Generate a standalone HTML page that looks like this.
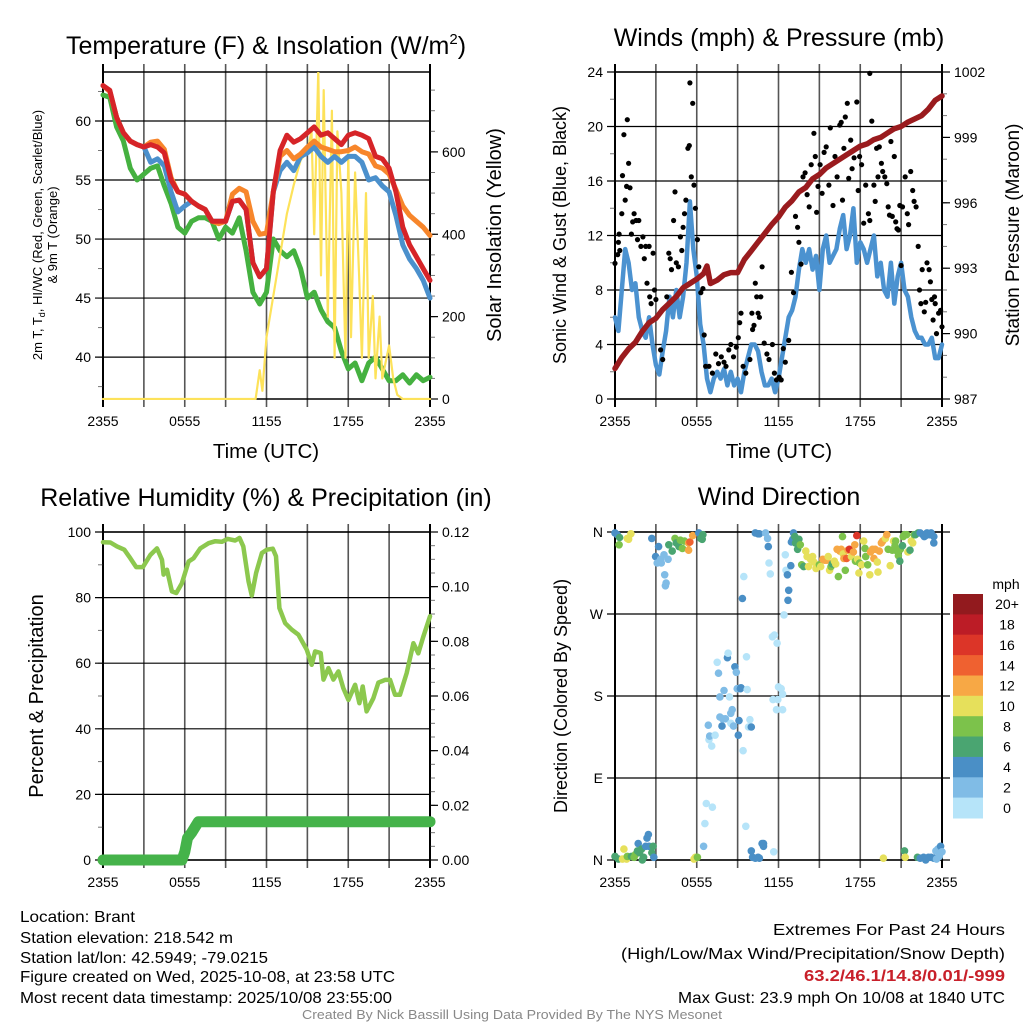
<!DOCTYPE html>
<html><head><meta charset="utf-8"><style>
html,body{margin:0;padding:0;background:#fff;}
svg{display:block;font-family:"Liberation Sans",sans-serif;}
</style></head><body>
<svg id="chart" xmlns="http://www.w3.org/2000/svg" width="1024" height="1024" viewBox="0 0 1024 1024">
<rect x="0" y="0" width="1024" height="1024" fill="#fff"/>
<text x="266" y="54" font-size="25" text-anchor="middle">Temperature (F) &amp; Insolation (W/m<tspan font-size="15" dy="-10">2</tspan><tspan dy="10">)</tspan></text>
<text x="779" y="46" font-size="25" text-anchor="middle">Winds (mph) &amp; Pressure (mb)</text>
<text x="266" y="506" font-size="25" text-anchor="middle">Relative Humidity (%) &amp; Precipitation (in)</text>
<text x="779" y="505" font-size="25" text-anchor="middle">Wind Direction</text>
<text x="266" y="458" font-size="20.5" text-anchor="middle">Time (UTC)</text>
<text x="779" y="458" font-size="20.5" text-anchor="middle">Time (UTC)</text>
<text transform="translate(42,235) rotate(-90)" font-size="13" text-anchor="middle">2m T, T<tspan font-size="9" dy="3">d</tspan><tspan dy="-3">, HI/WC (Red, Green, Scarlet/Blue)</tspan></text>
<text transform="translate(57,235) rotate(-90)" font-size="13" text-anchor="middle">&amp; 9m T (Orange)</text>
<text transform="translate(501,235) rotate(-90)" font-size="20" text-anchor="middle">Solar Insolation (Yellow)</text>
<text transform="translate(566,235) rotate(-90)" font-size="18" text-anchor="middle">Sonic Wind &amp; Gust (Blue, Black)</text>
<text transform="translate(1019,235) rotate(-90)" font-size="19" text-anchor="middle">Station Pressure (Maroon)</text>
<text transform="translate(43,696) rotate(-90)" font-size="20" text-anchor="middle">Percent &amp; Precipitation</text>
<text transform="translate(567,696) rotate(-90)" font-size="18" text-anchor="middle">Direction (Colored By Speed)</text>
<g font-family="'Liberation Sans Narrow','Liberation Sans',sans-serif" font-size="16">
<text x="20" y="922" textLength="115" lengthAdjust="spacingAndGlyphs">Location: Brant</text>
<text x="20" y="943" textLength="213" lengthAdjust="spacingAndGlyphs">Station elevation: 218.542 m</text>
<text x="20" y="963" textLength="248" lengthAdjust="spacingAndGlyphs">Station lat/lon: 42.5949; -79.0215</text>
<text x="20" y="982" textLength="375" lengthAdjust="spacingAndGlyphs">Figure created on Wed, 2025-10-08, at 23:58 UTC</text>
<text x="20" y="1003" textLength="372" lengthAdjust="spacingAndGlyphs">Most recent data timestamp: 2025/10/08 23:55:00</text>
<text x="773" y="935" textLength="232" lengthAdjust="spacingAndGlyphs">Extremes For Past 24 Hours</text>
<text x="621" y="959" textLength="384" lengthAdjust="spacingAndGlyphs">(High/Low/Max Wind/Precipitation/Snow Depth)</text>
<text x="804" y="981" textLength="201" lengthAdjust="spacingAndGlyphs" fill="#c8202a" font-weight="bold">63.2/46.1/14.8/0.01/-999</text>
<text x="678" y="1003" textLength="327" lengthAdjust="spacingAndGlyphs">Max Gust: 23.9 mph On 10/08 at 1840 UTC</text>
<text x="302" y="1019" font-size="13" fill="#888" textLength="420" lengthAdjust="spacingAndGlyphs">Created By Nick Bassill Using Data Provided By The NYS Mesonet</text>
</g>
</svg>
<script>
const timeTicks=[0,3,6,9,12,15,18,21,24];
const timeLabels=['2355','','0555','','1155','','1755','','2355'];
// Temperature panel
const tempHours=[0,0.5,1,1.5,2,2.5,3,3.5,4,4.5,5,5.5,6,6.5,7,7.5,8,8.5,9,9.5,10,10.5,11,11.5,12,12.5,13,13.5,14,14.5,15,15.5,16,16.5,17,17.5,18,18.5,19,19.5,20,20.5,21,21.5,22,22.5,23,23.5,24];
const tempRed=[63.0,62.6,60.3,59.0,58.3,58.0,57.8,58.0,57.8,57.3,55.0,54.0,53.8,53.2,52.8,52.5,51.5,51.5,51.5,53.2,53.3,52.5,48.0,46.8,47.5,54.0,57.5,58.8,58.2,58.5,59.0,59.5,58.8,59.0,58.5,58.0,58.8,59.0,58.8,58.5,57.0,56.8,56.0,54.0,51.0,49.5,48.5,47.5,46.5];
const tempOrange=[63,62.5,60.3,59,58.3,58,57.8,58.2,58.3,57.6,55.2,54,53.8,53.2,52.8,52.5,51.5,51.3,51.5,53.8,54.3,54,51.5,50.4,50.5,54,57,57.5,56.8,57.2,57.8,58.3,57.8,57.6,57.4,57.4,57.5,57.8,57.4,57.2,56.2,56,55.5,54.2,52.8,52,51.5,51,50.3];
const tempBlue=[63,62.5,60.3,59,58.3,58,57.8,56.5,56.8,56.2,54,52.3,52.8,53.2,52.8,52.5,51.5,51.5,51.5,53.2,53.3,52.5,48.0,46.8,47.5,54,55.8,56.5,55.8,57,57.3,57.8,57,56.5,57,56.5,57,57,56.5,55,55.2,54.5,54,52,49.5,48.3,47.5,46.5,45];
const dewGreen=[62.2,62,59.5,58.3,56,55,55.5,56,56.2,54.5,53,51,50.5,51.5,51.8,51.8,51.5,50,51,50.5,51.8,49,45.5,44.5,45.5,50.0,49.0,48.5,49,47.5,45,45.5,44,43,42.5,40.5,39,39.5,38,39.5,40,39,38,38,38.5,37.8,38.5,38,38.3];
const solarHours=[0,11.2,11.5,11.7,12,12.5,13,13.5,14,14.5,15,15.3,15.5,15.8,16,16.2,16.5,16.8,17,17.2,17.5,17.8,18,18.2,18.5,18.8,19,19.3,19.5,19.8,20,20.3,20.5,21,21.3,21.6,22,24];
const solarVals=[0,0,70,20,150,250,350,450,520,580,600,650,400,800,300,750,200,700,100,650,500,100,600,150,550,300,100,500,100,250,50,200,50,130,50,10,0,0];
const tempTicks=[40,45,50,55,60];
const solarTicks=[0,200,400,600];
// Wind panel
const windHours=[];for(let i=0;i<=96;i++)windHours.push(i/4);
const windSpeed=[6,5,8,11,10,8,8.5,6,5,4.5,6,4,2.5,1.8,3.5,5,7.5,6,8,6,7.5,10,14.5,11,9,5.5,4,1.5,0.5,1.5,2,1.5,2.2,1,2,1,1.5,0.5,2,3,4,4,3.5,2,1,1,1.5,0.5,1.5,3,4.5,6,6.5,7.5,9.5,11,10,11,9.5,10.5,8,11,12,10,10.5,11,12.5,13.5,11,12,14,10,11.5,11,10,11,12,9,10,8,7.5,10,7,9,10,8,7.5,6,5,4.5,4.5,4,4,4.5,3,3,4];
const gustHours=[0,0.2,0.25,0.3,0.35,0.5,0.55,0.65,0.75,0.9,0.85,1.0,1.1,1.2,1.3,1.4,1.55,1.65,1.75,1.9,2.05,2.15,2.25,2.35,2.5,2.55,2.65,2.8,2.9,3.0,3.35,3.5,3.8,3.95,4.05,4.15,4.3,4.4,4.5,4.65,4.8,4.9,5.0,5.1,5.2,5.35,5.45,5.5,5.6,5.7,5.8,5.9,6.05,6.15,6.3,6.45,6.55,6.65,6.9,7.15,7.4,7.6,7.8,8.0,8.15,8.35,8.5,8.7,8.9,9.05,9.15,9.25,9.4,9.6,9.9,10.05,10.1,10.2,10.3,10.4,10.5,10.6,10.7,10.8,10.95,11.15,11.3,11.55,11.7,11.85,12.05,12.2,12.35,12.5,12.75,12.95,13.1,13.25,13.4,13.5,13.65,13.8,13.95,14.1,14.25,14.4,14.6,14.7,14.8,14.9,15.05,15.2,15.35,15.5,15.7,15.8,16.0,16.15,16.3,16.5,16.6,16.7,16.8,16.9,17.05,17.15,17.3,17.4,17.55,17.75,17.85,17.95,18.1,18.25,18.4,18.6,18.7,18.7,18.85,19.0,19.1,19.2,19.3,19.4,19.55,19.65,19.8,19.95,20.05,20.15,20.25,20.35,20.5,20.6,20.7,20.8,20.9,21.0,21.1,21.3,21.45,21.55,21.7,21.85,21.95,22.1,22.25,22.35,22.45,22.55,22.7,22.8,22.9,23.05,23.15,23.25,23.35,23.45,23.5,23.6,23.75,23.9,24];
const gustVals=[9.95,10.6,11.5,12.1,10.9,13.6,16.4,19.4,14.6,20.5,15.6,17.3,15.5,12.1,13,13.6,13.1,11.7,13.1,11.2,11.9,10.3,11.2,8.5,11.2,7.5,7.0,10.7,8,7.3,3.6,2.9,7.5,10.7,10.3,9.5,13.1,15.2,10,9.7,11.9,10.9,12.6,13.6,14.6,18.4,18.6,23.2,16.3,21.7,15.7,14,11.7,9.7,7.8,8.1,4.7,2.4,2.4,1.9,3.3,2.6,3.1,2.7,2.4,3.6,4,3.1,3.8,4.5,5.6,6.3,2.4,1.9,2.9,6.3,5.1,5.4,8.5,7.5,6.3,6,7.5,9.7,4.1,3.3,2.9,4,1.9,1.4,1.6,1.4,3.7,2.7,4.3,9.3,7.8,13.4,12.6,11.5,9.9,16.3,16.6,15,14.1,17.2,19.5,17.8,13.7,15.6,17.2,15.1,18.1,18.5,15.7,19.9,14.2,17.8,16.3,20.1,20.3,14.6,18.4,20.7,21.7,16.2,19.0,16.9,17.7,21.8,15.3,17.8,17.2,12.9,15.7,13.6,13.1,23.9,20.4,15.7,14.5,18.4,16.3,18.5,17.3,16.7,16.3,15.8,14.1,13.5,18.9,13.4,17.8,13,12.5,12.4,14.2,9.8,14.1,16.3,13.6,12.8,16.7,15.3,14.5,14.1,11.2,8,7.0,9.5,6.4,7.1,10,9.5,8.6,7.3,5.8,7.5,7,4.8,6.3,6.5,5.3];
const presHours=[0,0.5,1,1.5,2,2.5,3,3.5,4,4.5,5,5.5,6,6.5,6.75,7,7.5,8,8.5,9,9.5,10,10.5,11,11.5,12,12.5,13,13.5,14,14.5,15,15.5,16,16.5,17,17.5,18,18.5,19,19.5,20,20.5,21,21.5,22,22.5,23,23.5,24];
const presVals=[988.4,988.9,989.3,989.6,990.1,990.5,990.7,991.1,991.4,991.7,992.1,992.3,992.5,992.75,993.1,992.3,992.45,992.7,992.8,992.8,993.4,993.8,994.2,994.6,995.0,995.35,995.8,996.1,996.5,996.7,997.1,997.3,997.6,997.8,998.0,998.2,998.4,998.6,998.7,998.9,999.0,999.2,999.4,999.5,999.7,999.85,1000.0,1000.3,1000.7,1000.9];
const windTicks=[0,4,8,12,16,20,24];
const presTicks=[987,990,993,996,999,1002];
// RH panel
const rhHours=[0,0.54,1.03,1.56,2.0,2.44,2.93,3.47,3.96,4.33,4.45,4.7,5.06,5.38,5.79,6.28,6.65,7.14,7.75,8.24,8.72,9.16,9.7,10.02,10.3,10.68,10.92,11.24,11.66,12.02,12.46,12.7,12.95,13.37,13.86,14.34,14.96,15.32,15.57,15.98,16.18,16.54,16.91,17.28,17.64,18.01,18.5,18.82,19.06,19.35,19.84,20.21,20.7,21.07,21.43,21.8,22.29,22.78,23.14,23.5,24];
const rhVals=[96.9,96.8,95.6,94.6,92,89.3,89.3,93,95,91.5,87,88.5,81.9,81.4,84.4,91,92,95,96.6,97.2,97,97.9,97.4,98.2,95.6,85,80.6,87.5,93.6,94.6,94.9,92.6,76.8,72.2,70.2,68.7,64.1,59.5,63.6,63.1,55,58.5,55,57.5,52.4,48.8,53.4,47.8,52.9,45.3,49.3,54.1,54.9,54.9,50.4,50.4,57,66.1,63,68,74.3];
const precipHours=[0,5.8,6.0,6.2,6.5,7.0,24];
const precipVals=[0,0,0.003,0.008,0.010,0.014,0.014];
const rhTicks=[0,20,40,60,80,100];
const precipTicks=[0,0.02,0.04,0.06,0.08,0.10,0.12];
const precipLabels=['0.00','0.02','0.04','0.06','0.08','0.10','0.12'];
// Direction panel
const dirTicks=[0,90,180,270,360];
const dirLabels=['N','E','S','W','N'];
const dirHours=[0,0.17,0.3,0.34,0.9,1.0,1.17,2.7,2.98,3.2,3.1,3.35,3.4,3.65,3.75,3.7,3.6,3.9,3.95,4.2,4.4,4.5,4.7,4.8,4.95,5.1,5.4,5.5,5.7,5.4,6.15,6.3,6.4,6.45,
6.7,7.15,6.6,6.5,6.9,6.95,7.1,6.85,7.35,7.5,7.6,7.7,7.7,7.85,7.9,8.0,8.1,8.25,8.3,8.4,8.5,8.5,8.6,8.7,8.8,8.9,8.97,9.05,9.1,9.2,9.25,9.35,9.4,9.45,9.6,9.65,9.7,9.8,9.9,10.0,10.0,10.1,10.3,10.5,10.6,10.8,10.9,10.9,10.3,10.5,10.6,11.05,11.2,11.25,11.3,11.4,11.55,11.7,11.9,11.65,11.6,11.95,12.0,12.2,12.3,11.85,12.3,12.4,12.5,12.55,12.65,12.75,12.7,12.9,12.95,13.05,13.1,13.2,13.25,13.4,13.5,13.6,13.7,13.85,14.0,
14.1,14.2,14.35,14.5,14.6,14.75,14.85,15.0,15.1,15.25,15.4,15.55,15.65,15.75,15.85,15.95,16.1,16.2,16.3,16.4,16.5,16.6,16.7,16.75,16.8,16.9,17.0,17.1,17.2,17.35,17.5,17.6,17.65,17.75,17.8,17.9,17.95,18.1,18.25,18.35,18.4,18.55,18.7,18.75,18.9,19.0,19.1,19.25,19.3,19.4,19.55,19.65,19.85,19.95,20.05,20.2,20.35,20.45,20.55,20.6,20.7,20.8,20.9,20.95,21.1,21.15,21.25,21.4,21.5,21.65,21.75,21.85,21.95,22.05,22.25,22.4,22.6,22.7,22.9,23.1,23.2,23.4,23.4,22.8,
0,0.25,0.55,0.65,0.85,0.9,1.2,1.4,1.5,1.65,1.7,1.8,1.95,2.0,2.1,2.25,2.35,2.45,2.5,2.7,2.8,2.85,5.8,5.9,6.05,19.7,21.25,21.3,22.2,22.4,22.65,22.8,23.0,23.2,23.4,23.55,23.7,23.8,23.9,24,23.6];
const dirDeg=[359,357,346,354,353,352,358,353,333,344,326,330,326,313,304,301,335,330,346,339,353,348,344,351,342,350,348,349,356,340,359,353,352,357,
62,58,40,15,132,136,125,148,137,217,205,179,157,147,155,186,155,222,227,179,161,150,165,147,212,206,188,137,153,188,189,287,120,311,37,223,187,146,154,146,10,3,2,3,2,18,18,15,359,358,358,359,353,344,326,314,245,247,238,9,176,176,190,188,182,165,165,269,335,318,313,296,285,323,349,352,359,355,348,341,352,346,324,322,339,
333,322,330,333,327,320,323,324,322,330,329,329,333,318,322,325,328,325,341,311,339,341,355,336,331,318,331,340,341,333,338,346,328,356,330,315,326,324,350,342,333,324,313,338,341,331,341,327,316,339,348,350,353,357,341,323,340,350,345,350,339,334,328,341,345,355,357,357,338,340,350,348,357,357,359,359,357,355,359,357,359,355,348,356,
4,1,1,12,1,4,4,3,6,10,18,8,12,0,3,15,24,28,15,8,15,3,1,3,3,2,10,3,3,2,3,0,3,3,2,10,12,4,15,9,1];
const dirSpeed=[4,5,9,6,10,10,10,4,4,4,3,3,3,3,3,3,3,3,6,6,8,6,6,8,8,8,12,15,12,12,4,6,6,6,
1,1,1,3,1,3,1,3,1,1,3,3,3,4,3,3,3,4,1,1,3,1,3,3,4,3,3,4,4,4,4,4,1,1,1,1,1,1,1,4,4,4,4,4,4,4,4,4,4,4,4,3,3,4,1,1,1,1,1,1,1,1,1,1,1,1,1,1,1,1,4,4,4,4,4,4,4,6,6,6,6,8,8,6,10,
10,10,10,10,10,10,10,8,10,12,12,12,10,10,8,6,10,10,12,8,12,12,8,10,12,8,14,12,16,10,12,12,8,16,10,10,8,10,10,8,8,8,10,12,12,12,12,10,10,12,12,12,10,12,8,10,8,10,8,8,8,8,6,8,6,8,8,8,10,6,10,10,8,6,6,4,4,4,4,4,4,4,4,4,
6,6,10,10,10,8,6,8,8,6,4,6,6,6,6,4,4,4,4,6,6,4,10,10,8,10,6,10,6,4,4,4,4,4,4,3,3,3,4,3,3];
const cbLabels=['20+','18','16','14','12','10','8','6','4','2','0'];
const cbColors=['#921a1e','#bc1c26','#dc3528','#ef6130','#f7a845','#e6e05b','#7cc24b','#4aa571','#4a8fc6','#80bce6','#b6e4f9'];

const NS='http://www.w3.org/2000/svg';
const svg=document.getElementById('chart');
function mk(tag,attrs,parent){const e=document.createElementNS(NS,tag);for(const k in attrs)e.setAttribute(k,attrs[k]);(parent||svg).appendChild(e);return e;}
function lin(d0,d1,r0,r1){return v=>r0+(v-d0)/(d1-d0)*(r1-r0);}
function speedColor(s){s=s||0;let b=Math.max(0,Math.min(10,Math.floor(s/2)));return cbColors[10-b];}

function frame(name,x0,x1,y0,y1,ly,lticks,llabels,lminor,ry,rticks,rlabels,rminor,xlabels){
  const g=mk('g',{});
  
  
  const xs=lin(0,24,x0,x1);
  timeTicks.forEach((t,i)=>{
    const x=xs(t);
    const l=mk('line',{x1:x,x2:x,y1:y0-8,y2:y1+8,stroke:(i==0||i==8)?'#000':'#555','stroke-width':(i==0||i==8)?2:1.6},g);
    
    
    if(xlabels&&timeLabels[i]){
      const tx=mk('text',{x:x,y:y1+27,'font-size':14,'text-anchor':'middle'},g);
      tx.textContent=timeLabels[i];
      
      
    }
  });
  lminor.forEach(v=>{const y=ly(v);const l=mk('line',{x1:x0-5,x2:x0,y1:y,y2:y,stroke:'#777','stroke-width':1},g);
    
    });
  lticks.forEach((v,i)=>{
    const y=ly(v);
    const l=mk('line',{x1:x0-8,x2:ry?x1:x1+8,y1:y,y2:y,stroke:'#000','stroke-width':1.2},g);
    
    
    const tx=mk('text',{x:x0-12,y:y+5,'font-size':14,'text-anchor':'end'},g);
    tx.textContent=llabels[i];
    
    
  });
  if(ry){
    rminor.forEach(v=>{const y=ry(v);const l=mk('line',{x1:x1,x2:x1+5,y1:y,y2:y,stroke:'#777','stroke-width':1},g);
      
      });
    rticks.forEach((v,i)=>{
      const y=ry(v);
      const l=mk('line',{x1:x1,x2:x1+8,y1:y,y2:y,stroke:'#000','stroke-width':1.2},g);
      
      
      const tx=mk('text',{x:x1+12,y:y+5,'font-size':14,'text-anchor':'start'},g);
      tx.textContent=rlabels[i];
      
      
    });
  }
  const b=mk('rect',{x:x0,y:y0,width:x1-x0,height:y1-y0,fill:'none',stroke:'#000','stroke-width':1.5},g);
  
  
  return xs;
}
function range(a,b,s){const r=[];for(let v=a;v<=b+1e-9;v+=s)r.push(+v.toFixed(4));return r;}
function line(name,xs,ys,hx,vy,color,w,clip){
  let d='';hx.forEach((h,i)=>{d+=(i?'L':'M')+xs(h).toFixed(1)+','+ys(vy[i]).toFixed(1);});
  const p=mk('path',{d:d,fill:'none',stroke:color,'stroke-width':w,'stroke-linejoin':'round','stroke-linecap':'round'});
  if(clip)p.setAttribute('clip-path',clip);
  
  
}
const defs=mk('defs',{});
[['c1',103,72],['c2',615,72],['c3',103,532],['c4',615,532]].forEach(c=>{
  const cp=mk('clipPath',{id:c[0]},defs);mk('rect',{x:c[1]-6,y:c[2],width:339,height:328},cp);
});

// Panel 1
const t1=lin(36.45,64.15,399,72), s1=lin(0,794,399,72);
const x1s=frame('temp',103,430,72,399,t1,tempTicks,tempTicks.map(String),range(37.5,62.5,2.5),s1,solarTicks,solarTicks.map(String),range(50,750,50),true);
line('dewpoint-line',x1s,t1,tempHours,dewGreen,'#45b140',5,'url(#c1)');
line('solar-line',x1s,s1,solarHours,solarVals,'#fde25a',2.2,'url(#c1)');
line('heat-index-line',x1s,t1,tempHours,tempBlue,'#4b90cc',5,'url(#c1)');
line('temp-9m-line',x1s,t1,tempHours,tempOrange,'#f7862b',5,'url(#c1)');
line('temp-2m-line',x1s,t1,tempHours,tempRed,'#d62428',5,'url(#c1)');

// Panel 2
const w2=lin(0,24,399,72), p2=lin(987,1002,399,72);
const x2s=frame('wind',615,942,72,399,w2,windTicks,windTicks.map(String),range(2,22,2),p2,presTicks,presTicks.map(String),range(988,1001,1),true);
line('wind-speed-line',x2s,w2,windHours,windSpeed,'#4b92d0',4.5,'url(#c2)');
gustHours.forEach((h,i)=>{
  const c=mk('circle',{cx:x2s(h).toFixed(1),cy:w2(gustVals[i]).toFixed(1),r:2.6,fill:'#000'});
  
  
});
line('pressure-line',x2s,p2,presHours,presVals,'#9a1b1e',5.5,'url(#c2)');

// Panel 3
const r3=lin(0,100,860,532), q3=lin(0,0.12,860,532);
const x3s=frame('rh',103,430,532,860,r3,rhTicks,rhTicks.map(String),range(10,90,10),q3,precipTicks,precipLabels,range(0.005,0.115,0.005),true);
line('rh-line',x3s,r3,rhHours,rhVals,'#8cc84e',4.5,null);
line('precip-line',x3s,q3,precipHours,precipVals,'#45b34a',11,null);

// Panel 4
const d4=lin(0,360,860,532);
const x4s=frame('dir',615,942,532,860,d4,dirTicks,dirLabels,[],null,[],[],[],true);
dirHours.forEach((h,i)=>{
  const c=mk('circle',{cx:x4s(h).toFixed(1),cy:d4(dirDeg[i]).toFixed(1),r:3.8,fill:speedColor(dirSpeed[i])});
  
  
});
const cbTitle=mk('text',{x:1006,y:589,'font-size':14,'text-anchor':'middle'});
cbTitle.textContent='mph';


cbColors.forEach((col,i)=>{
  const y=594+i*224/11;
  const r=mk('rect',{x:953,y:y.toFixed(1),width:30,height:(224/11+0.5).toFixed(1),fill:col});
  
  
  const t=mk('text',{x:1007,y:(y+224/22+5).toFixed(1),'font-size':14,'text-anchor':'middle'});
  t.textContent=cbLabels[i];
  
  
});
</script>
</body></html>
